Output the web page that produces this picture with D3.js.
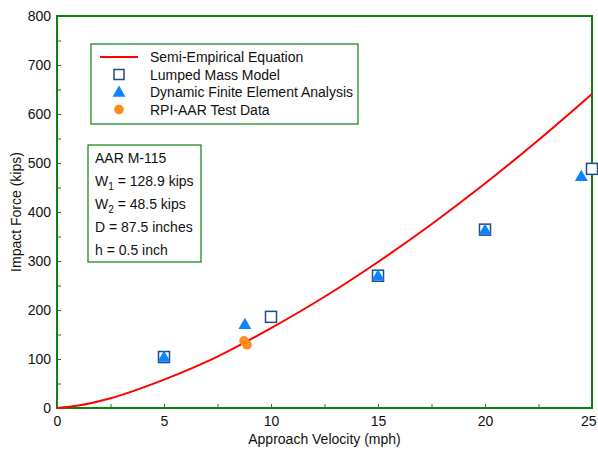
<!DOCTYPE html>
<html><head><meta charset="utf-8">
<script src="https://cdn.jsdelivr.net/npm/d3@7"></script>
<style>body{margin:0;background:#fff}text{font-family:"Liberation Sans",Arial,sans-serif;fill:#111}</style>
</head><body>
<svg id="c" width="598" height="453"></svg>
<script>
const curveV = [0, 1, 2.5, 5, 7.5, 10, 12.5, 15, 17.5, 20, 22.5, 25];
const curveF = [0, 5, 20, 58, 105, 163, 227, 298, 375, 458, 547, 641];
const lumpedV = [5, 10, 15, 20, 25];
const lumpedF = [104, 186, 270, 364, 488];
const feaV = [5, 8.78, 15, 20, 24.5];
const feaF = [104, 171, 270, 363, 473];
const testV = [8.74, 8.88];
const testF = [137, 129];
const xTicks = [0, 5, 10, 15, 20, 25];
const yTicks = [0, 100, 200, 300, 400, 500, 600, 700, 800];
const legendLabels = ["Semi-Empirical Equation", "Lumped Mass Model", "Dynamic Finite Element Analysis", "RPI-AAR Test Data"];
const infoLines = ["AAR M-115", "W|1| = 128.9 kips", "W|2| = 48.5 kips", "D = 87.5 inches", "h = 0.5 inch"];

const svg = d3.select("#c");
const L = 57, R = 592, T = 16, B = 408;
const x = d3.scaleLinear().domain([0, 25]).range([L, R]);
const y = d3.scaleLinear().domain([0, 800]).range([B, T]);
const green = "#108010", red = "#ff0000", sqC = "#1f4a8c", triC = "#0a84ff", orC = "#ff8c1a";

// minor ticks
const gx = svg.append("g").attr("transform", `translate(0,${B})`)
  .call(d3.axisBottom(x).tickValues(d3.range(0, 25.01, 2.5)).tickSize(-4).tickFormat(""));
const gy = svg.append("g").attr("transform", `translate(${L},0)`)
  .call(d3.axisLeft(y).tickValues(d3.range(0, 801, 50)).tickSize(-4).tickFormat(""));
[gx, gy].forEach(g => { g.select(".domain").remove(); g.selectAll("line").attr("stroke", green).attr("stroke-width", 1); });
// labels
const lx = svg.append("g").attr("transform", `translate(0,${B})`)
  .call(d3.axisBottom(x).tickValues(xTicks).tickSize(0).tickPadding(8).tickFormat(d3.format("d")));
const ly = svg.append("g").attr("transform", `translate(${L},0)`)
  .call(d3.axisLeft(y).tickValues(yTicks).tickSize(0).tickPadding(6).tickFormat(d3.format("d")));
[lx, ly].forEach(g => { g.select(".domain").remove(); g.selectAll("text").attr("font-size", 14).attr("fill", "#111").style("font-family", "Liberation Sans, Arial, sans-serif"); });
lx.selectAll("text").filter(d => d === 25).attr("text-anchor", "end").attr("dx", 4);

// frame
svg.append("rect").attr("x", L).attr("y", T).attr("width", R - L).attr("height", B - T)
  .attr("fill", "none").attr("stroke", green).attr("stroke-width", 2);

// curve
const cdata = curveV.map((v, i) => [v, curveF[i]]);
svg.append("path").datum(cdata).attr("fill", "none").attr("stroke", red).attr("stroke-width", 2)
  .attr("d", d3.line().x(d => x(d[0])).y(d => y(d[1])).curve(d3.curveMonotoneX));

// squares
svg.append("g").selectAll("rect").data(lumpedV.map((v, i) => [v, lumpedF[i]])).join("rect")
  .attr("x", d => x(d[0]) - 5.5).attr("y", d => y(d[1]) - 5.5).attr("width", 11).attr("height", 11)
  .attr("fill", "#fff").attr("stroke", sqC).attr("stroke-width", 1.5);
// triangles
const tri = d3.symbol().type(d3.symbolTriangle).size(72);
svg.append("g").selectAll("path").data(feaV.map((v, i) => [v, feaF[i]])).join("path")
  .attr("transform", d => `translate(${x(d[0])},${y(d[1]) + 1})`).attr("d", tri).attr("fill", triC);
// test dots
svg.append("g").selectAll("circle").data(testV.map((v, i) => [v, testF[i]])).join("circle")
  .attr("cx", d => x(d[0])).attr("cy", d => y(d[1])).attr("r", 4.8).attr("fill", orC);

// legend
const lg = svg.append("g");
lg.append("rect").attr("x", 91).attr("y", 44).attr("width", 267).attr("height", 80)
  .attr("fill", "#fff").attr("stroke", green).attr("stroke-width", 1.2);
const ly0 = 57, ldy = 17.5;
legendLabels.forEach((t, i) => {
  lg.append("text").attr("x", 150).attr("y", ly0 + i * ldy + 5).attr("font-size", 14).text(t);
});
lg.append("line").attr("x1", 100).attr("x2", 138).attr("y1", ly0).attr("y2", ly0).attr("stroke", red).attr("stroke-width", 2);
lg.append("rect").attr("x", 119 - 5).attr("y", ly0 + ldy - 5).attr("width", 10).attr("height", 10)
  .attr("fill", "#fff").attr("stroke", sqC).attr("stroke-width", 1.5);
lg.append("path").attr("transform", `translate(119,${ly0 + 2 * ldy + 1})`).attr("d", tri).attr("fill", triC);
lg.append("circle").attr("cx", 119).attr("cy", ly0 + 3 * ldy).attr("r", 4.8).attr("fill", orC);

// info box
const ib = svg.append("g");
ib.append("rect").attr("x", 88).attr("y", 145).attr("width", 113).attr("height", 117)
  .attr("fill", "#fff").attr("stroke", green).attr("stroke-width", 1.2);
infoLines.forEach((s, i) => {
  const t = ib.append("text").attr("x", 95).attr("y", 163 + i * 23).attr("font-size", 14);
  const parts = s.split("|");
  t.append("tspan").text(parts[0]);
  if (parts.length > 1) {
    t.append("tspan").attr("font-size", 10).attr("dy", 4).text(parts[1]);
    t.append("tspan").attr("dy", -4).text(parts[2]);
  }
});

// axis titles
svg.append("text").attr("x", (L + R) / 2).attr("y", 444).attr("text-anchor", "middle").attr("font-size", 14).text("Approach Velocity (mph)");
svg.append("text").attr("transform", `translate(21,${(T + B) / 2}) rotate(-90)`).attr("text-anchor", "middle").attr("font-size", 14).text("Impact Force (kips)");
</script>
</body></html>
